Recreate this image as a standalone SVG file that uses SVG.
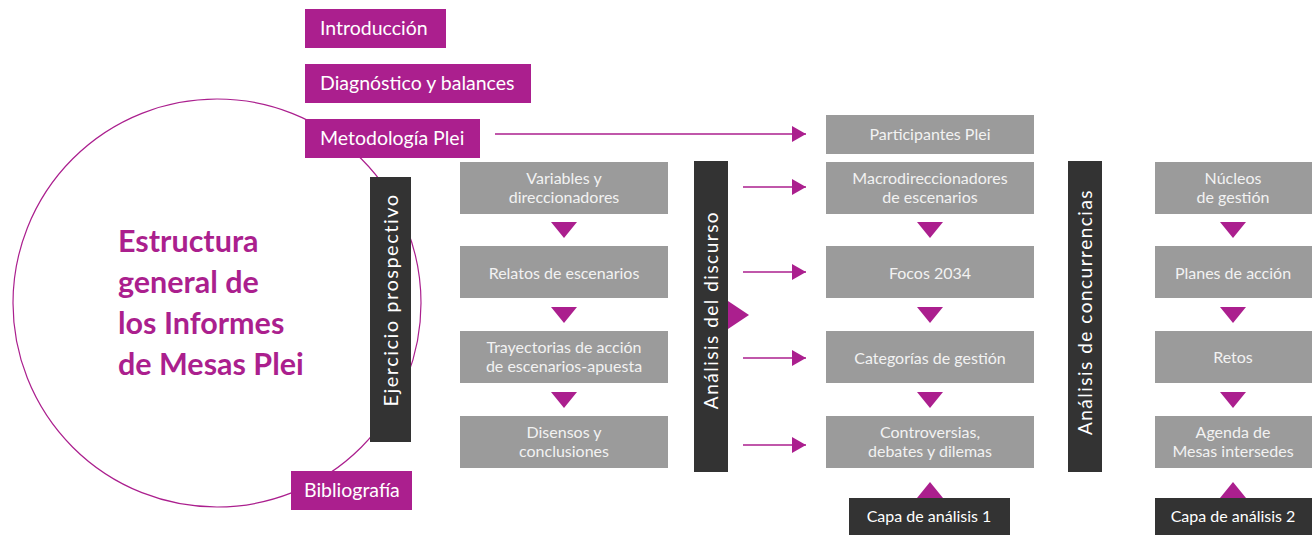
<svg xmlns="http://www.w3.org/2000/svg" width="1312" height="535" viewBox="0 0 1312 535">
<defs>
<style>
.pb{fill:#AB1F8E}
.gb{fill:#9B9B9B}
.db{fill:#333333}
.pt{font-family:Lato,"Open Sans",sans-serif;font-size:19.5px;fill:#ffffff}
.gt{font-family:Lato,"Open Sans",sans-serif;font-size:16px;fill:#f2f2f2;text-anchor:middle}
.vt{font-family:Lato,"Open Sans",sans-serif;font-size:19px;fill:#ffffff;text-anchor:middle;letter-spacing:1.5px}
.ct{font-family:Lato,"Open Sans",sans-serif;font-size:16px;fill:#ffffff;text-anchor:middle}
.tt{font-family:Lato,"Open Sans",sans-serif;font-size:30.5px;font-weight:bold;fill:#AB1F8E}
.tri{fill:#AB1F8E}
.ln{stroke:#AB1F8E;stroke-width:1.5;fill:none}
</style>
<marker id="ah" markerWidth="14" markerHeight="16" refX="14" refY="8" orient="auto" markerUnits="userSpaceOnUse">
<path d="M0,0 L14,8 L0,16 Z" fill="#AB1F8E"/>
</marker>
</defs>
<rect width="1312" height="535" fill="#ffffff"/>

<g id="circle">
<circle cx="217" cy="303" r="204" fill="none" stroke="#AB1F8E" stroke-width="1.2"/>
<text class="tt" x="118" y="252">Estructura</text>
<text class="tt" x="118" y="293">general de</text>
<text class="tt" x="118" y="334">los Informes</text>
<text class="tt" x="118" y="375">de Mesas Plei</text>
</g>

<g id="connectors">
<line class="ln" x1="495" y1="134" x2="806" y2="134" marker-end="url(#ah)"/>
<line class="ln" x1="743" y1="187" x2="806" y2="187" marker-end="url(#ah)"/>
<line class="ln" x1="743" y1="272" x2="806" y2="272" marker-end="url(#ah)"/>
<line class="ln" x1="743" y1="358" x2="806" y2="358" marker-end="url(#ah)"/>
<line class="ln" x1="743" y1="445" x2="806" y2="445" marker-end="url(#ah)"/>
<path class="tri" d="M551,222 L577,222 L564,238 Z"/>
<path class="tri" d="M551,307 L577,307 L564,323 Z"/>
<path class="tri" d="M551,392 L577,392 L564,408 Z"/>
<path class="tri" d="M917,222 L943,222 L930,238 Z"/>
<path class="tri" d="M917,307 L943,307 L930,323 Z"/>
<path class="tri" d="M917,392 L943,392 L930,408 Z"/>
<path class="tri" d="M1220,222 L1246,222 L1233,238 Z"/>
<path class="tri" d="M1220,307 L1246,307 L1233,323 Z"/>
<path class="tri" d="M1220,392 L1246,392 L1233,408 Z"/>
<path class="tri" d="M917,498 L943,498 L930,482 Z"/>
<path class="tri" d="M1220,498 L1246,498 L1233,482 Z"/>
<path class="tri" d="M728,301 L749,315 L728,329 Z"/>
</g>

<g id="introduccion"><rect class="pb" x="305" y="9" width="141" height="39"/><text class="pt" x="320" y="35">Introducción</text></g>
<g id="diagnostico"><rect class="pb" x="305" y="64" width="226" height="39"/><text class="pt" x="320" y="90">Diagnóstico y balances</text></g>
<g id="metodologia"><rect class="pb" x="305" y="119" width="175" height="39"/><text class="pt" x="320" y="145">Metodología Plei</text></g>
<g id="bibliografia"><rect class="pb" x="291" y="471" width="121" height="39"/><text class="pt" x="304" y="497">Bibliografía</text></g>

<g id="ejercicio"><rect class="db" x="370" y="177" width="41" height="265"/><text class="vt" style="font-size:20px" transform="translate(398,300) rotate(-90)">Ejercicio prospectivo</text></g>

<g id="variables"><rect class="gb" x="460" y="162" width="208" height="52"/><text class="gt" x="564" y="184">Variables y</text><text class="gt" x="564" y="203">direccionadores</text></g>
<g id="relatos"><rect class="gb" x="460" y="246" width="208" height="52"/><text class="gt" x="564" y="279">Relatos de escenarios</text></g>
<g id="trayectorias"><rect class="gb" x="460" y="331" width="208" height="52"/><text class="gt" x="564" y="353">Trayectorias de acción</text><text class="gt" x="564" y="372">de escenarios-apuesta</text></g>
<g id="disensos"><rect class="gb" x="460" y="416" width="208" height="52"/><text class="gt" x="564" y="438">Disensos y</text><text class="gt" x="564" y="457">conclusiones</text></g>

<g id="discurso"><rect class="db" x="694" y="161" width="34" height="311"/><text class="vt" transform="translate(718,310) rotate(-90)">Análisis del discurso</text></g>

<g id="participantes"><rect class="gb" x="826" y="115" width="208" height="39"/><text class="gt" x="930" y="140">Participantes Plei</text></g>
<g id="macro"><rect class="gb" x="826" y="162" width="208" height="52"/><text class="gt" x="930" y="184">Macrodireccionadores</text><text class="gt" x="930" y="203">de escenarios</text></g>
<g id="focos"><rect class="gb" x="826" y="246" width="208" height="52"/><text class="gt" x="930" y="279">Focos 2034</text></g>
<g id="categorias"><rect class="gb" x="826" y="331" width="208" height="52"/><text class="gt" x="930" y="364">Categorías de gestión</text></g>
<g id="controversias"><rect class="gb" x="826" y="416" width="208" height="52"/><text class="gt" x="930" y="438">Controversias,</text><text class="gt" x="930" y="457">debates y dilemas</text></g>
<g id="capa1"><rect class="db" x="849" y="498" width="161" height="37"/><text class="ct" x="929" y="522">Capa de análisis 1</text></g>

<g id="concurrencias"><rect class="db" x="1068" y="161" width="34" height="311"/><text class="vt" transform="translate(1092,312) rotate(-90)">Análisis de concurrencias</text></g>

<g id="nucleos"><rect class="gb" x="1155" y="162" width="157" height="52"/><text class="gt" x="1233" y="184">Núcleos</text><text class="gt" x="1233" y="203">de gestión</text></g>
<g id="planes"><rect class="gb" x="1155" y="246" width="157" height="52"/><text class="gt" x="1233" y="279">Planes de acción</text></g>
<g id="retos"><rect class="gb" x="1155" y="331" width="157" height="52"/><text class="gt" x="1233" y="363">Retos</text></g>
<g id="agenda"><rect class="gb" x="1155" y="416" width="157" height="52"/><text class="gt" x="1233" y="438">Agenda de</text><text class="gt" x="1233" y="457">Mesas intersedes</text></g>
<g id="capa2"><rect class="db" x="1155" y="498" width="157" height="37"/><text class="ct" x="1233" y="522">Capa de análisis 2</text></g>
</svg>
